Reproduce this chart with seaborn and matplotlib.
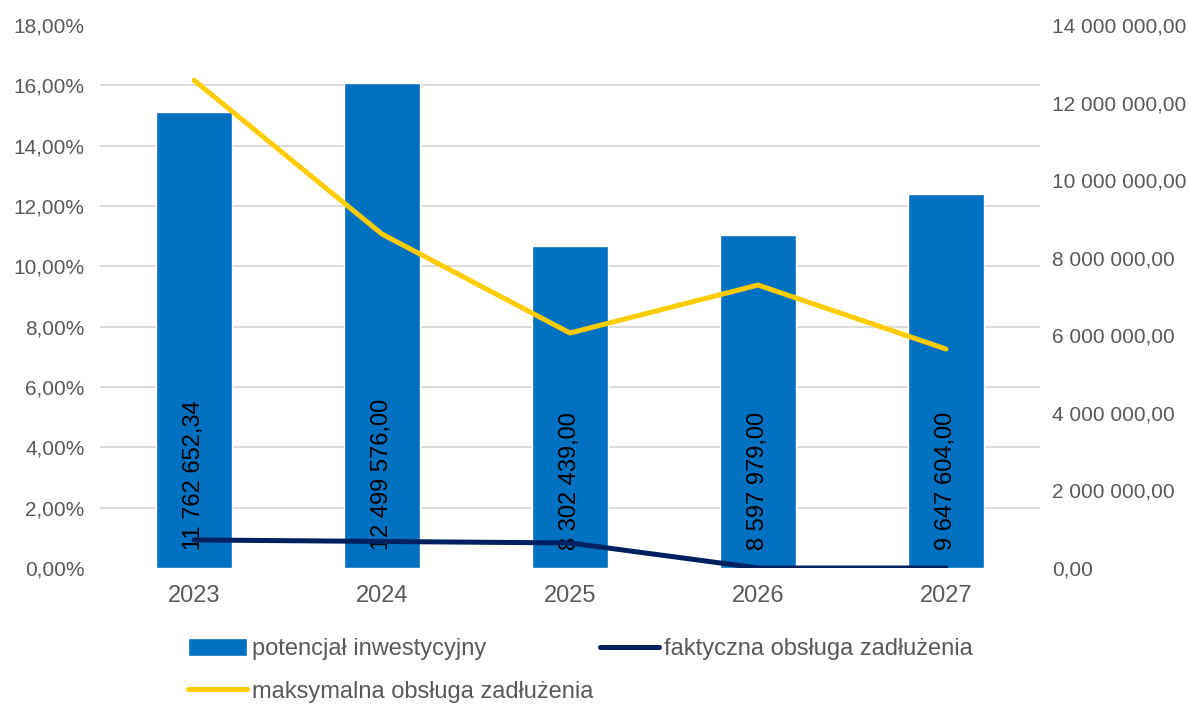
import numpy as np
import pandas as pd
import matplotlib
matplotlib.use("Agg")
import matplotlib.pyplot as plt
from matplotlib.lines import Line2D
from matplotlib.patches import Patch
from matplotlib.ticker import FuncFormatter
import seaborn as sns

# Data
years = ["2023", "2024", "2025", "2026", "2027"]
potencjal = [11762652.34, 12499576.00, 8302439.00, 8597979.00, 9647604.00]
bar_labels = ["11 762 652,34", "12 499 576,00", "8 302 439,00", "8 597 979,00", "9 647 604,00"]
faktyczna = [0.0093, 0.0088, 0.0083, 0.0, 0.0]
maksymalna = [0.1617, 0.1107, 0.0779, 0.0938, 0.0726]

BAR_COLOR = "#0070C0"
NAVY = "#002060"
YELLOW = "#FFCC00"
TEXT = "#595959"
GRID = "#D9D9D9"

sns.set_theme(style="white")
plt.rcParams["font.family"] = ["Liberation Sans", "DejaVu Sans"]

df_bar = pd.DataFrame({"rok": years, "potencjal": potencjal})
df_line = pd.DataFrame({"pos": np.arange(len(years)), "faktyczna": faktyczna, "maksymalna": maksymalna})

fig = plt.figure(figsize=(11.89, 7.04), dpi=100)
ax = fig.add_axes([100 / 1189, 1 - 568 / 704, (1040 - 100) / 1189, (568 - 25) / 704])

# bars on the right-hand axis (drawn in the back)
sns.barplot(data=df_bar, x="rok", y="potencjal", ax=ax, color=BAR_COLOR,
            saturation=1, width=0.4, zorder=2)
ax.set_xlim(-0.5, len(years) - 0.5)

# lines on the left-hand percent axis
ax2 = ax.twinx()
sns.lineplot(data=df_line, x="pos", y="maksymalna", ax=ax2, color=YELLOW,
             linewidth=3.6, solid_capstyle="round", zorder=4)
sns.lineplot(data=df_line, x="pos", y="faktyczna", ax=ax2, color=NAVY,
             linewidth=3.6, solid_capstyle="round", zorder=4)

ax.set_ylim(0, 14e6)
ax.set_yticks(np.arange(0, 14e6 + 1, 2e6))
ax.yaxis.tick_right()
ax.yaxis.set_label_position("right")
ax.yaxis.set_major_formatter(FuncFormatter(lambda v, p: f"{v:,.2f}".replace(",", " ").replace(".", ",")))
# horizontal gridlines follow the percent axis (0..18% every 2%)
ax.set_yticks(np.linspace(0, 14e6, 10), minor=True)
ax.grid(False)
ax.grid(True, which="minor", axis="y", color=GRID, linewidth=1.3, zorder=0)
ax.set_axisbelow(True)
ax.tick_params(axis="y", which="both", length=0, labelsize=15, labelcolor=TEXT, pad=9)
ax.tick_params(axis="x", length=0, labelsize=17, labelcolor=TEXT, pad=12)
ax.set_xlabel("")
ax.set_ylabel("")
for s in ax.spines.values():
    s.set_visible(False)

# value labels inside the bar base
for bar, lab in zip(ax.patches, bar_labels):
    ax.annotate(lab, (bar.get_x() + bar.get_width() / 2, bar.get_y()),
                xytext=(0, 13), textcoords="offset points", rotation=90,
                ha="center", va="bottom", fontsize=17, color="black", zorder=3)

ax2.set_ylim(0, 0.18)
ax2.set_yticks(np.arange(0, 0.181, 0.02))
ax2.yaxis.tick_left()
ax2.yaxis.set_label_position("left")
ax2.yaxis.set_major_formatter(FuncFormatter(lambda v, p: f"{v * 100:.2f}%".replace(".", ",")))
ax2.tick_params(axis="y", length=0, labelsize=15, labelcolor=TEXT, pad=11)
ax2.set_xlabel("")
ax2.set_ylabel("")
ax2.grid(False)
for s in ax2.spines.values():
    s.set_visible(False)

handles = [
    Patch(facecolor=BAR_COLOR, label="potencjał inwestycyjny"),
    Line2D([0], [0], color=YELLOW, linewidth=3.6, solid_capstyle="round", label="maksymalna obsługa zadłużenia"),
    Line2D([0], [0], color=NAVY, linewidth=3.6, solid_capstyle="round", label="faktyczna obsługa zadłużenia"),
]
fig.legend(handles=handles, loc="upper left", bbox_to_anchor=(188 / 1189, 1 - 638 / 704),
           ncol=2, frameon=False, fontsize=17, labelcolor=TEXT, handlelength=2.5,
           handleheight=0.8, handletextpad=0.2, columnspacing=0.3, labelspacing=0.85,
           borderpad=0, borderaxespad=0)

fig.savefig("out.png", dpi=100)
